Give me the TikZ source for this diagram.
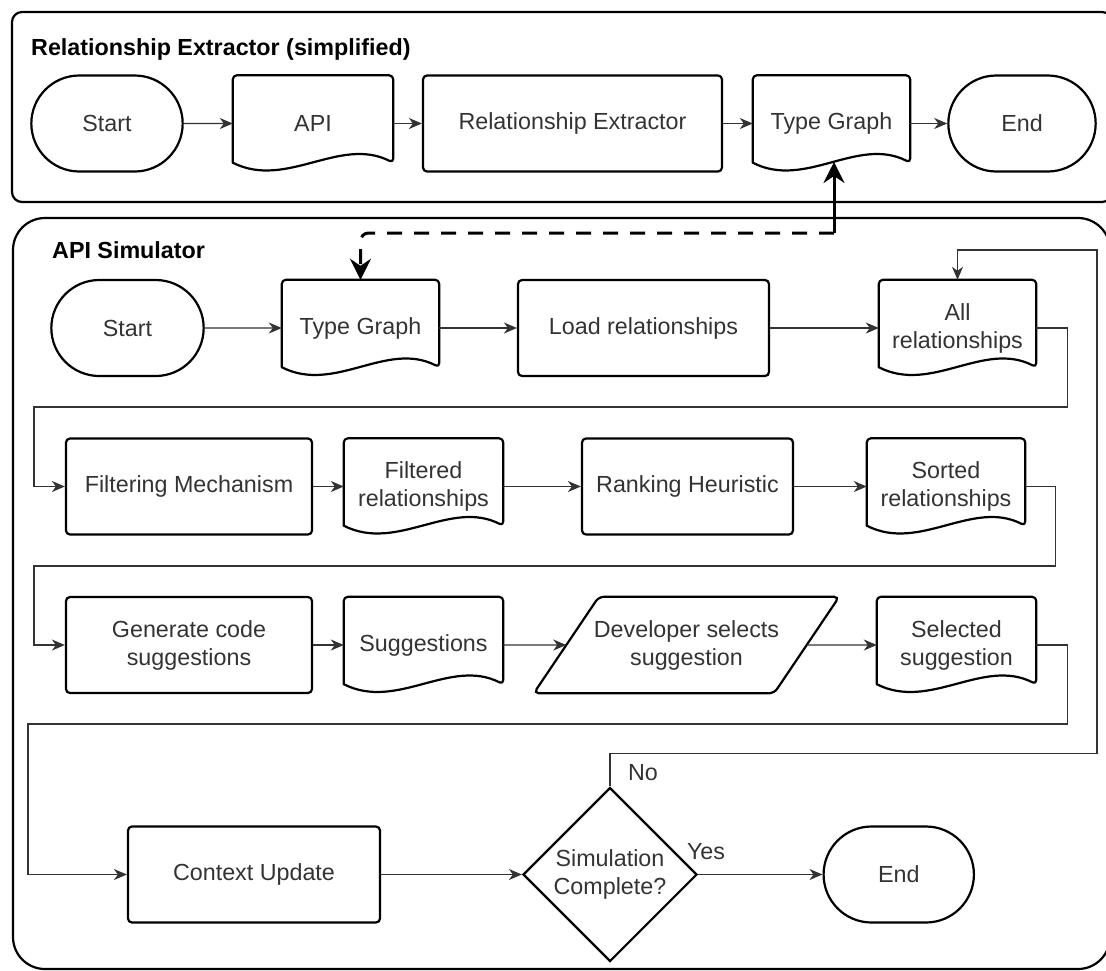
\documentclass[tikz,border=0pt]{standalone}
\usepackage{fontspec}
\setmainfont{Liberation Sans}
\usetikzlibrary{arrows.meta,shapes.misc,shapes.geometric,calc}
\newcommand\lblfont{\fontsize{23.3pt}{28pt}\selectfont}

% document symbol: rounded top corners, wavy bottom edge
\newcommand\docframe[1]{%
  \draw[shp, line join=round]
    ([yshift=9pt]#1.south west) [rounded corners=4pt] -- (#1.north west)
    -- (#1.north east) -- ([yshift=9pt]#1.south east) [sharp corners]
    .. controls ($(#1.south west)!0.667!(#1.south east)+(0pt,36pt)$)
    and ($(#1.south west)!0.333!(#1.south east)+(0pt,-18pt)$)
    .. ([yshift=9pt]#1.south west) -- cycle;}

\begin{document}
\begin{tikzpicture}[x=1pt,y=-1pt,
  shp/.style={line width=2.2pt, draw=black},
  term/.style={shp, rounded rectangle, minimum height=96pt, font=\lblfont, text=black!80},
  proc/.style={shp, rectangle, rounded corners=4pt, minimum height=96pt, align=center, font=\lblfont, text=black!80},
  docbox/.style={rectangle, minimum height=96pt, align=center, font=\lblfont, text=black!80},
  title/.style={font=\lblfont\bfseries, inner sep=0pt, anchor=base west},
  lbl/.style={font=\lblfont, text=black!80, inner sep=0pt},
  link/.style={line width=1.4pt, draw=black!80, -{Stealth[length=13pt,width=11pt,inset=4pt]}},
  reuse/.style={line width=3pt, draw=black, -{Stealth[length=21pt,width=21pt,inset=7pt]}},
]
\useasboundingbox (0,0) rectangle (1106,970);
\clip (0,0) rectangle (1106,970);

% containers
\draw[shp, rounded corners=10pt] (12,12) rectangle (1112,202);
\draw[shp, rounded corners=32pt] (13,218) rectangle (1110,969);
\node[title] (t1) at (31,55) {Relationship Extractor (simplified)};
\node[title] (t2) at (52,258) {API Simulator};

% relationship extractor row
\node[term, minimum width=158pt] (s1) at (107,123.5) {Start};
\node[docbox, minimum width=160pt] (api) at (313,123.5) {API};
\node[proc, minimum width=299pt] (relex) at (572.5,123.5) {Relationship Extractor};
\node[docbox, minimum width=157pt] (tg1) at (831.5,123.5) {Type Graph};
\node[term, minimum width=154pt] (e1) at (1022,123.5) {End};
\docframe{api}
\docframe{tg1}

% simulator, row 1
\node[term, minimum width=159pt] (s2) at (127.5,328) {Start};
\node[docbox, minimum width=157pt] (tg2) at (360.5,328) {Type Graph};
\node[proc, minimum width=251pt] (load) at (643.5,328) {Load relationships};
\node[docbox, minimum width=157pt] (all) at (957.5,328) {All\\relationships};
\docframe{tg2}
\docframe{all}

% row 2
\node[proc, minimum width=246pt] (filt) at (189,486.5) {Filtering Mechanism};
\node[docbox, minimum width=159pt] (filtd) at (423.5,486.5) {Filtered\\relationships};
\node[proc, minimum width=211pt] (rank) at (687.5,486.5) {Ranking Heuristic};
\node[docbox, minimum width=158pt] (sorted) at (946,486.5) {Sorted\\relationships};
\docframe{filtd}
\docframe{sorted}

% row 3
\node[proc, minimum width=246pt] (gen) at (189,645) {Generate code\\suggestions};
\node[docbox, minimum width=159pt] (sugg) at (423.5,645) {Suggestions};
\node[docbox, minimum width=305pt] (dev) at (686.5,645) {Developer selects\\suggestion};
\draw[shp, rounded corners=5pt] (dev.south west) -- ([xshift=-65pt]dev.south east)
  -- (dev.north east) -- ([xshift=65pt]dev.north west) -- cycle;
\node[docbox, minimum width=159pt] (sel) at (956.5,645) {Selected\\suggestion};
\docframe{sugg}
\docframe{sel}
\coordinate (devin) at ($(dev.south west)!0.5!([xshift=65pt]dev.north west)$);
\coordinate (devout) at ($([xshift=-65pt]dev.south east)!0.5!(dev.north east)$);

% row 4
\node[proc, minimum width=252pt] (ctx) at (254,874.5) {Context Update};
\node[shp, diamond, minimum width=174pt, minimum height=174pt, inner sep=0pt,
      align=center, font=\lblfont, text=black!80] (dia) at (610,874.5) {Simulation\\Complete?};
\node[term, minimum width=157pt] (e2) at (898.75,874.5) {End};

% connectors, extractor
\draw[link] (s1) -- (api);
\draw[link] (api) -- (relex);
\draw[link] (relex) -- (tg1);
\draw[link] (tg1) -- (e1);

% type graph shared between both parts
\coordinate (tgin) at ($(tg1.south)+(2.5pt,9.7pt)$);
\coordinate (dj) at (834,233);
\draw[reuse] (dj) -- (tgin);
\draw[reuse, dash pattern=on 15pt off 12pt, rounded corners=8pt] (dj) -| (tg2.north);

% connectors, simulator
\draw[link] (s2) -- (tg2);
\draw[link] (tg2) -- (load);
\draw[link] (load) -- (all);
\draw[link] (all.east) -- ++(31,0) |- (34,407) |- (filt.west);
\draw[link] (filt) -- (filtd);
\draw[link] (filtd) -- (rank);
\draw[link] (rank) -- (sorted);
\draw[link] (sorted.east) -- ++(30,0) |- (34,566) |- (gen.west);
\draw[link] (gen) -- (sugg);
\draw[link] (sugg.east) -- (devin);
\draw[link] (devout) -- (sel.west);
\draw[link] (sel.east) -- ++(31,0) |- (28,724) |- (ctx.west);
\draw[link] (ctx) -- (dia);
\draw[link] (dia.east) -- (e2.west);
\draw[link] (dia.north) -- ++(0,-33) -| (1097,250) -| (all.north);

\node[lbl] (yes) at (706,852) {Yes};
\node[lbl] (no) at (643,773) {No};
\end{tikzpicture}
\end{document}
